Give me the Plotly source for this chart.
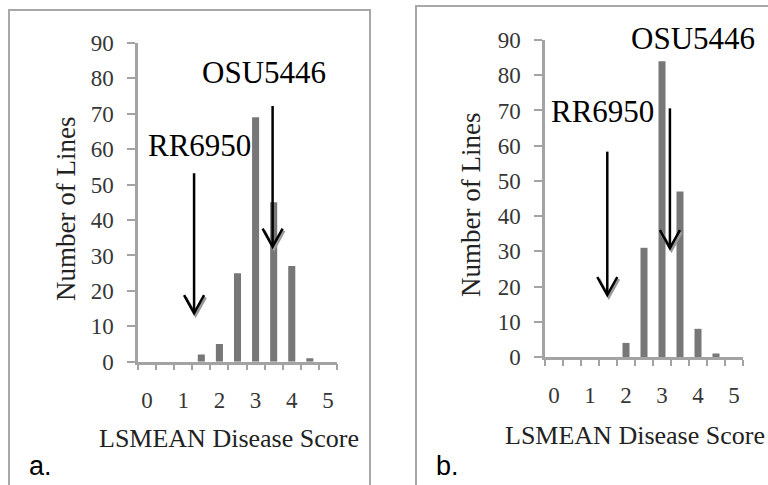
import plotly.graph_objects as go

# ---- data ----
scores = [0, 0.5, 1, 1.5, 2, 2.5, 3, 3.5, 4, 4.5, 5]
counts_a = [0, 0, 0, 2, 5, 25, 69, 45, 27, 1, 0]
counts_b = [0, 0, 0, 0, 4, 31, 84, 47, 8, 1, 0]
x_tick_labels = ["0", "1", "2", "3", "4", "5"]
y_ticks = [0, 10, 20, 30, 40, 50, 60, 70, 80, 90]
parents = ["RR6950", "OSU5446"]
parent_score_a = [1.30, 3.47]
parent_score_b = [1.48, 3.22]
arrow_top_a = [53.2, 72.2]
arrow_tip_a = [13.7, 32.5]
arrow_top_b = [58.3, 70.6]
arrow_tip_b = [17.6, 30.9]

W, H = 768, 485
SERIF = "Liberation Serif"
BAR = "#777777"
AX = "#a3a3a3"
TICKFONT = dict(family=SERIF, size=23, color="#363636")

fig = go.Figure()
fig.add_trace(go.Bar(x=scores, y=counts_a, marker_color=BAR, marker_line_width=0,
                     xaxis="x", yaxis="y", showlegend=False))
fig.add_trace(go.Bar(x=scores, y=counts_b, marker_color=BAR, marker_line_width=0,
                     xaxis="x2", yaxis="y2", showlegend=False))

panels = {
    "a": dict(l=138, r=337, y0=361.7, y90=43.0),
    "b": dict(l=545, r=743, y0=357.0, y90=40.0),
}
XR = [-0.25, 5.25]
bounds = [-0.25 + 0.5 * i for i in range(12)]


def xaxis_cfg(p, anchor):
    return dict(domain=[p["l"] / W, p["r"] / W], range=XR, anchor=anchor, automargin=False,
                showgrid=False, zeroline=False,
                showline=True, linecolor=AX, linewidth=2.5,
                tickmode="array", tickvals=[0, 1, 2, 3, 4, 5], ticktext=x_tick_labels,
                ticks="", ticklabelstandoff=16, tickfont=TICKFONT,
                minor=dict(tickmode="array", tickvals=bounds, ticks="outside", ticklen=6,
                           tickwidth=2, tickcolor=AX),
                fixedrange=True)


def yaxis_cfg(p, anchor):
    return dict(domain=[(H - p["y0"]) / H, (H - p["y90"]) / H], range=[0, 90], anchor=anchor,
                automargin=False,
                showgrid=False, zeroline=False, showline=True, linecolor=AX, linewidth=2.5,
                tickmode="array", tickvals=y_ticks, ticks="outside", ticklen=8, tickwidth=2,
                tickcolor=AX, ticklabelstandoff=9, tickfont=TICKFONT, fixedrange=True)


pa, pb = panels["a"], panels["b"]
fig.update_layout(
    xaxis=xaxis_cfg(pa, "y"), yaxis=yaxis_cfg(pa, "x"),
    xaxis2=xaxis_cfg(pb, "y2"), yaxis2=yaxis_cfg(pb, "x2"),
)

shapes = []
annotations = []

shapes.append(dict(type="rect", xref="paper", yref="paper", x0=9 / W, x1=370 / W,
                   y0=-0.05, y1=(H - 10) / H, line=dict(color="#a8a8a8", width=2)))
shapes.append(dict(type="rect", xref="paper", yref="paper", x0=416 / W, x1=1.05,
                   y0=-0.05, y1=(H - 6) / H, line=dict(color="#a8a8a8", width=2)))


def add_arrows(p, xr, yr, xs, tops, tips):
    ux = (XR[1] - XR[0]) / (p["r"] - p["l"])
    uy = 90 / (p["y0"] - p["y90"])
    hx, hy = 10 * ux, 18 * uy
    for x, t, b in zip(xs, tops, tips):
        sx, sy = 1.5 * ux, 2 * uy
        shapes.append(dict(type="path", xref=xr, yref=yr,
                           path=f"M {x - hx + sx},{b + hy - sy} L {x + sx},{b - sy} L {x + hx + sx},{b + hy - sy}",
                           line=dict(color="#9a9a9a", width=3)))
        shapes.append(dict(type="line", xref=xr, yref=yr, x0=x, x1=x, y0=t, y1=b + 1 * uy,
                           line=dict(color="black", width=2.5)))
        shapes.append(dict(type="path", xref=xr, yref=yr,
                           path=f"M {x - hx},{b + hy} L {x},{b} L {x + hx},{b + hy}",
                           line=dict(color="black", width=2.5)))


add_arrows(pa, "x", "y", parent_score_a, arrow_top_a, arrow_tip_a)
add_arrows(pb, "x2", "y2", parent_score_b, arrow_top_b, arrow_tip_b)

label_px = {
    ("a", 0): (199, 145), ("a", 1): (264, 72),
    ("b", 0): (602.5, 112), ("b", 1): (692.5, 38),
}
for (pn, i), (cx, cy) in label_px.items():
    annotations.append(dict(xref="paper", yref="paper", x=cx / W, y=(H - cy) / H,
                            text=parents[i], showarrow=False, xanchor="center", yanchor="middle",
                            font=dict(family=SERIF, size=31, color="black")))

for cx, cy in [(66, 209), (471, 205)]:
    annotations.append(dict(xref="paper", yref="paper", x=cx / W, y=(H - cy) / H,
                            text="Number of Lines", textangle=-90, showarrow=False,
                            xanchor="center", yanchor="middle",
                            font=dict(family=SERIF, size=27, color="#222222")))
for x0, cy in [(97, 438), (503, 435)]:
    annotations.append(dict(xref="paper", yref="paper", x=x0 / W, y=(H - cy) / H,
                            text="LSMEAN Disease Score", showarrow=False,
                            xanchor="left", yanchor="middle",
                            font=dict(family=SERIF, size=26, color="#222222")))
for txt, x0 in [("a.", 27), ("b.", 434)]:
    annotations.append(dict(xref="paper", yref="paper", x=x0 / W, y=(H - 466) / H,
                            text=txt, showarrow=False, xanchor="left", yanchor="middle",
                            font=dict(family="Liberation Sans", size=27, color="black")))

fig.update_layout(
    width=W, height=H, margin=dict(l=0, r=0, t=0, b=0),
    paper_bgcolor="white", plot_bgcolor="white",
    bargap=0.61, shapes=shapes, annotations=annotations, showlegend=False,
)

fig.write_html("out.html", config={"displayModeBar": False})
